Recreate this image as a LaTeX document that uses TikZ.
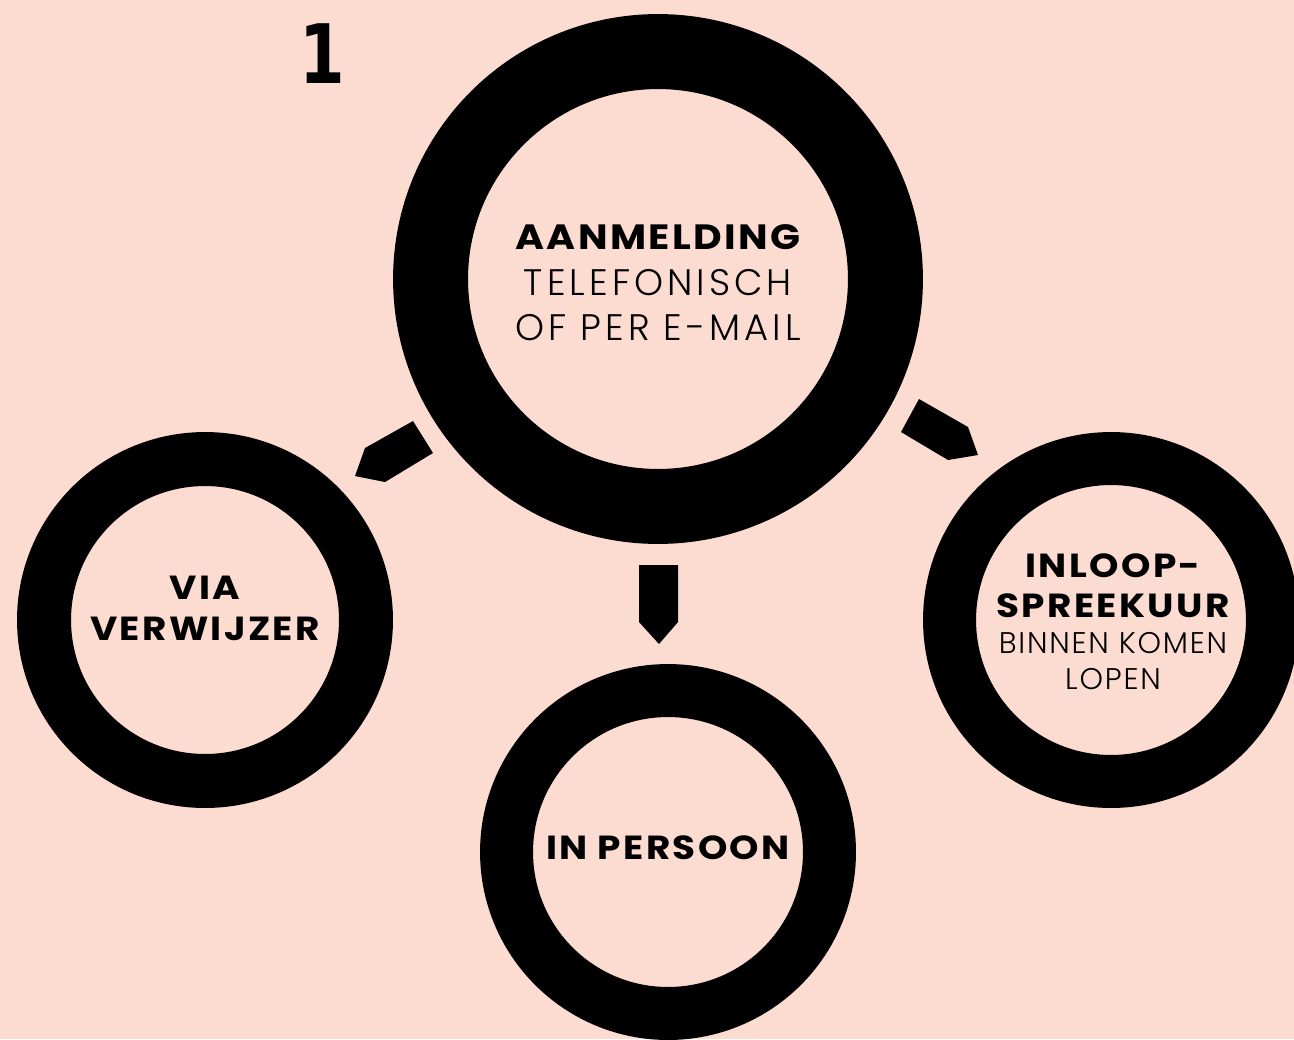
\documentclass[tikz,border=0pt]{standalone}
\usepackage{fontspec}
\setmainfont{Poppins}
\newfontfamily\boldf{Poppins}[UprightFont=* Bold, FakeStretch=1.12, LetterSpace=7]
\newfontfamily\lightf{Poppins}[UprightFont=* Light, LetterSpace=11]
\newfontfamily\lightsf{Poppins}[UprightFont=* Light, LetterSpace=6]
\newfontfamily\numf{DejaVu Sans}[UprightFont=* Bold, FakeStretch=0.8]
\definecolor{bg}{HTML}{FCDBD1}
\tikzset{
  ring/.style={circle, draw=black, fill=bg, inner sep=0pt},
  boldtxt/.style={font=\boldf\fontsize{20}{21}\selectfont, inner sep=0pt, anchor=center},
  boldsm/.style={font=\boldf\fontsize{19}{20}\selectfont, inner sep=0pt, anchor=center},
  lighttxt/.style={font=\lightf\fontsize{21}{22}\selectfont, inner sep=0pt, anchor=center},
  lightsm/.style={font=\lightsf\fontsize{17}{18}\selectfont, inner sep=0pt, anchor=center},
  arrowshape/.style={fill=black},
}
\begin{document}
\begin{tikzpicture}[x=0.02cm, y=-0.02cm]
\fill[bg] (0,0) rectangle (1294,1039);
\useasboundingbox (0,0) rectangle (1294,1039);
% rings
\node[ring, line width=1.5cm, minimum size=9.1cm] (main) at (658,279) {};
\node[ring, line width=1.08cm, minimum size=6.44cm] (left) at (205,620) {};
\node[ring, line width=1.06cm, minimum size=6.46cm] (bottom) at (668,852) {};
\node[ring, line width=1.06cm, minimum size=6.46cm] (right) at (1111,620) {};
% arrows
\fill[arrowshape] (413,421) -- (433,453) -- (385,482) -- (355,476) -- (365,448) -- cycle;
\fill[arrowshape] (919,399) -- (901,432) -- (948,460) -- (978,455) -- (968,427) -- cycle;
\fill[arrowshape] (639,565) -- (678,565) -- (678,622) -- (659,644) -- (639,622) -- cycle;
% number
\node[font=\numf\fontsize{46.7}{48}\selectfont, inner sep=0pt, anchor=base] (num) at (322,83) {1};
% texts
\node[boldtxt] (t1) at (658,237) {AANMELDING};
\node[lighttxt] (t2) at (658,283) {TELEFONISCH};
\node[lighttxt] (t3) at (658,328) {OF PER E-MAIL};
\node[boldsm] (l1) at (205,588) {VIA};
\node[boldsm] (l2) at (205,629) {VERWIJZER};
\node[boldsm] (b1) at (668,848) {IN PERSOON};
\node[boldsm] (r1) at (1113,566) {INLOOP-};
\node[boldsm] (r2) at (1113,606) {SPREEKUUR};
\node[lightsm] (r3) at (1113,643) {BINNEN KOMEN};
\node[lightsm] (r4) at (1113,679) {LOPEN};
\end{tikzpicture}
\end{document}
